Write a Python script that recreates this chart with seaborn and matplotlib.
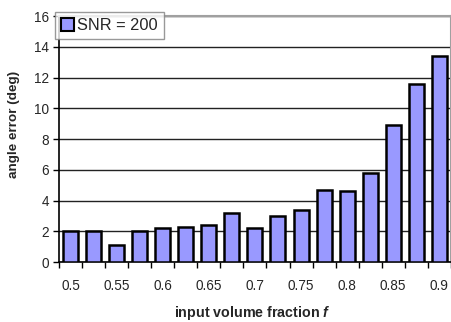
import numpy as np
import pandas as pd
import seaborn as sns
import matplotlib
matplotlib.use("Agg")
import matplotlib.pyplot as plt
from matplotlib.patches import Patch

# volume fractions (categories) and angle error at SNR = 200
fractions = [0.5, 0.525, 0.55, 0.575, 0.6, 0.625, 0.65, 0.675, 0.7,
             0.725, 0.75, 0.775, 0.8, 0.825, 0.85, 0.875, 0.9]
angle_err = [2.0, 2.0, 1.1, 2.0, 2.2, 2.3, 2.4, 3.2, 2.2,
             3.0, 3.4, 4.7, 4.65, 5.8, 8.9, 11.6, 13.4]
tick_labels = ["0.5", "0.55", "0.6", "0.65", "0.7", "0.75", "0.8", "0.85", "0.9"]
series_name = "SNR = 200"

df = pd.DataFrame({"f": [f"{v:g}" for v in fractions], "err": angle_err})

sns.set_style("white")
plt.rcParams["font.family"] = ["Liberation Sans", "DejaVu Sans"]
plt.rcParams["mathtext.fontset"] = "custom"
plt.rcParams["mathtext.it"] = "Liberation Sans:italic:bold"
plt.rcParams["mathtext.bf"] = "Liberation Sans:bold"

fig = plt.figure(figsize=(4.52, 3.22), dpi=100)
ax = fig.add_axes([0.1305, 0.186, 0.867, 0.764])

bar_col = "#9999FF"
sns.barplot(data=df, x="f", y="err", color=bar_col, saturation=1,
            width=0.65, edgecolor="black", linewidth=1.8, ax=ax, zorder=3)

ax.set_ylim(0, 16)
ax.set_xlim(-0.5, len(fractions) - 0.5)
ax.set_yticks(np.arange(0, 17, 2))
ax.yaxis.grid(True, color="#222222", linewidth=1.0, zorder=0)
ax.set_axisbelow(True)

# labels on every other category, tick marks between categories
ax.set_xticks(np.arange(0, len(fractions), 2))
ax.set_xticklabels(tick_labels)
ax.set_xticks(np.arange(-0.5, len(fractions), 1), minor=True)
ax.tick_params(axis="x", which="major", length=0, pad=12, labelsize=9.8)
ax.tick_params(axis="x", which="minor", length=4, width=1, color="black",
               direction="out", bottom=True)
ax.tick_params(axis="y", length=4, width=1, color="black", direction="out",
               left=True, labelsize=9.8, pad=3)

for s in ["left", "bottom"]:
    ax.spines[s].set_color("black")
    ax.spines[s].set_linewidth(1.2)
for s in ["top", "right"]:
    ax.spines[s].set_color("#a0a0a0")
    ax.spines[s].set_linewidth(1.5)

ax.set_xlabel("input volume fraction $\\it{f}$", fontweight="bold",
              fontsize=10.3)
ax.xaxis.set_label_coords(0.494, -0.17)
ax.set_ylabel("angle error (deg)", fontweight="bold", fontsize=9.7)
ax.yaxis.set_label_coords(-0.10, 0.559)

handle = Patch(facecolor=bar_col, edgecolor="black", linewidth=1.5)
leg = ax.legend([handle], [series_name], loc="upper left",
                bbox_to_anchor=(-0.01, 1.015), fontsize=11.8, frameon=True,
                fancybox=False, handlelength=0.8, handleheight=0.8,
                handletextpad=0.2, borderpad=0.35, borderaxespad=0)
leg.get_frame().set_edgecolor("#808080")
leg.get_frame().set_linewidth(1.0)
leg.set_zorder(5)

fig.savefig("out.png", dpi=100)
